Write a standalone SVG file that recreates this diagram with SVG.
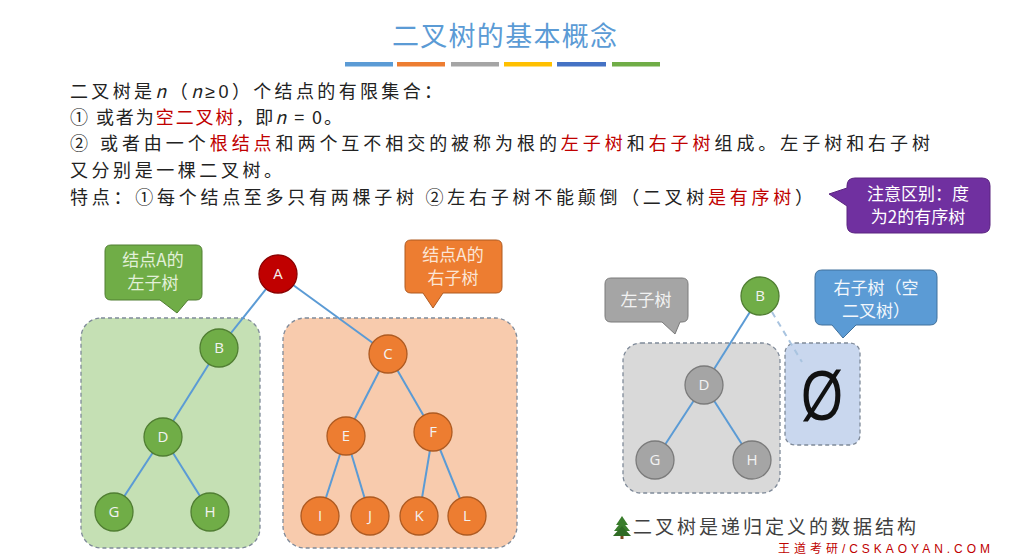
<svg xmlns="http://www.w3.org/2000/svg" width="1024" height="555" viewBox="0 0 1024 555">
<defs>
<style>
.cjk{font-family:"Noto Sans CJK SC","Noto Sans",sans-serif;}
.body{font-size:18px;fill:#222222;}
.red{fill:#C00000;}
.lat{font-family:"Liberation Sans","Noto Sans",sans-serif;}
.lbl{font-family:"Open Sans","Liberation Sans",sans-serif;font-size:15px;fill:#F2F2F2;text-anchor:middle;}
.edge{stroke:#5B9BD5;stroke-width:2;fill:none;}
.box{stroke:#7F8A99;stroke-width:1.3;stroke-dasharray:4 3;}
.ctext{font-family:"Noto Sans CJK SC","Noto Sans",sans-serif;font-size:17px;text-anchor:middle;}
.gn{fill:#70AD47;stroke:#507E32;stroke-width:1.3;}
.on{fill:#ED7D31;stroke:#AE5A21;stroke-width:1.3;}
.yn{fill:#A5A5A5;stroke:#7B7B7B;stroke-width:1.3;}
</style>
</defs>
<rect width="1024" height="555" fill="#FFFFFF"/>

<!-- title -->
<g id="title">
<text x="392" y="46" class="cjk" font-size="27" fill="#5B9BD5" textLength="225" lengthAdjust="spacing">二叉树的基本概念</text>
<rect x="345" y="62" width="48" height="4.5" fill="#5B9BD5"/>
<rect x="397" y="62" width="48" height="4.5" fill="#ED7D31"/>
<rect x="451" y="62" width="48" height="4.5" fill="#A5A5A5"/>
<rect x="504" y="62" width="48" height="4.5" fill="#FFC000"/>
<rect x="557" y="62" width="49" height="4.5" fill="#4472C4"/>
<rect x="612" y="62" width="48" height="4.5" fill="#70AD47"/>
</g>

<!-- body text -->
<g id="body">
<text x="70" y="98" class="cjk body" textLength="372" lengthAdjust="spacing">二叉树是<tspan font-style="italic">n</tspan>（<tspan font-style="italic">n</tspan><tspan class="lat">≥0</tspan>）个结点的有限集合：</text>
<text x="70" y="124" class="cjk body" textLength="272" lengthAdjust="spacing">① 或者为<tspan class="red">空二叉树</tspan>，即<tspan font-style="italic">n</tspan> = 0。</text>
<text x="70" y="150" class="cjk body" textLength="860" lengthAdjust="spacing">② 或者由一个<tspan class="red">根结点</tspan>和两个互不相交的被称为根的<tspan class="red">左子树</tspan>和<tspan class="red">右子树</tspan>组成。左子树和右子树</text>
<text x="70" y="177" class="cjk body" textLength="212" lengthAdjust="spacing">又分别是一棵二叉树。</text>
<text x="70" y="204" class="cjk body" textLength="743" lengthAdjust="spacing">特点：①每个结点至多只有两棵子树 ②左右子树不能颠倒（二叉树<tspan class="red">是有序树</tspan>）</text>
</g>

<!-- purple callout -->
<g id="note-purple">
<path d="M855,178 H982 Q990,178 990,186 V225 Q990,233 982,233 H855 Q847,233 847,225 V206 L829,194 L847,188 V186 Q847,178 855,178 Z" fill="#7030A0" stroke="#5A2480" stroke-width="1"/>
<text x="918" y="200" class="ctext" fill="#FFFFFF">注意区别：度</text>
<text x="918" y="223" class="ctext" fill="#FFFFFF">为2的有序树</text>
</g>

<!-- subtree boxes -->
<g id="box-left">
<rect x="81" y="318" width="179" height="230" rx="20" fill="#C5E0B4" class="box"/>
</g>
<g id="box-right">
<rect x="283" y="318" width="234" height="230" rx="22" fill="#F8CBAD" class="box"/>
</g>
<g id="box-gray">
<rect x="623" y="343" width="157" height="150" rx="18" fill="#D9D9D9" class="box"/>
</g>
<g id="box-empty">
<rect x="785" y="343" width="75" height="102" rx="10" fill="#C9D7EE" class="box"/>
<text x="801" y="420" font-family="Liberation Sans, sans-serif" font-size="70" fill="#111111" textLength="42" lengthAdjust="spacingAndGlyphs">Ø</text>
</g>

<!-- callouts -->
<g id="callout-left">
<path d="M111,245 H196 Q202,245 202,251 V294 Q202,300 196,300 H188 L177,313 L160,300 H111 Q105,300 105,294 V251 Q105,245 111,245 Z" fill="#70AD47" stroke="#507E32" stroke-width="1"/>
<text x="153" y="266" class="ctext" fill="#E2F0D9">结点A的</text>
<text x="153" y="289" class="ctext" fill="#E2F0D9">左子树</text>
</g>
<g id="callout-right">
<path d="M411,240 H496 Q502,240 502,246 V287 Q502,293 496,293 H443 L433,308 L423,293 H411 Q405,293 405,287 V246 Q405,240 411,240 Z" fill="#ED7D31" stroke="#AE5A21" stroke-width="1"/>
<text x="453" y="261" class="ctext" fill="#FBE5D6">结点A的</text>
<text x="453" y="284" class="ctext" fill="#FBE5D6">右子树</text>
</g>
<g id="callout-gray">
<path d="M611,278 H682 Q688,278 688,284 V316 Q688,322 682,322 H680 L675,334 L662,322 H611 Q605,322 605,316 V284 Q605,278 611,278 Z" fill="#A5A5A5" stroke="#7B7B7B" stroke-width="1"/>
<text x="646" y="306" class="ctext" fill="#F2F2F2">左子树</text>
</g>
<g id="callout-blue">
<path d="M822,270 H930 Q937,270 937,277 V318 Q937,325 930,325 H856 L843,338 L832,325 H822 Q815,325 815,318 V277 Q815,270 822,270 Z" fill="#5B9BD5" stroke="#41719C" stroke-width="1"/>
<text x="876" y="294" class="ctext" fill="#F2F7FC">右子树（空</text>
<text x="876" y="317" class="ctext" fill="#F2F7FC">二叉树）</text>
</g>

<!-- connectors -->
<g id="edges">
<line class="edge" x1="278" y1="274" x2="219" y2="348"/>
<line class="edge" x1="278" y1="274" x2="388" y2="354"/>
<line class="edge" x1="219" y1="348" x2="163" y2="437"/>
<line class="edge" x1="163" y1="437" x2="114" y2="512"/>
<line class="edge" x1="163" y1="437" x2="210" y2="512"/>
<line class="edge" x1="388" y1="354" x2="346" y2="436"/>
<line class="edge" x1="388" y1="354" x2="433" y2="432"/>
<line class="edge" x1="346" y1="436" x2="320" y2="516"/>
<line class="edge" x1="346" y1="436" x2="370" y2="516"/>
<line class="edge" x1="433" y1="432" x2="419" y2="516"/>
<line class="edge" x1="433" y1="432" x2="467" y2="516"/>
<line class="edge" x1="760" y1="296" x2="704" y2="385"/>
<line class="edge" x1="704" y1="385" x2="655" y2="460"/>
<line class="edge" x1="704" y1="385" x2="752" y2="460"/>
<line x1="772" y1="312" x2="802" y2="362" stroke="#A9C4E0" stroke-width="2" stroke-dasharray="6 5"/>
</g>

<!-- nodes -->
<g id="node-A"><circle cx="278" cy="274" r="19" fill="#C00000" stroke="#8B0000" stroke-width="1.3"/><text x="278" y="279" class="lbl">A</text></g>
<g id="node-B"><circle cx="219" cy="348" r="19" class="gn"/><text x="219" y="353" class="lbl">B</text></g>
<g id="node-D"><circle cx="163" cy="437" r="19" class="gn"/><text x="163" y="442" class="lbl">D</text></g>
<g id="node-G"><circle cx="114" cy="512" r="19" class="gn"/><text x="114" y="517" class="lbl">G</text></g>
<g id="node-H"><circle cx="210" cy="512" r="19" class="gn"/><text x="210" y="517" class="lbl">H</text></g>
<g id="node-C"><circle cx="388" cy="354" r="19" class="on"/><text x="388" y="359" class="lbl">C</text></g>
<g id="node-E"><circle cx="346" cy="436" r="19" class="on"/><text x="346" y="441" class="lbl">E</text></g>
<g id="node-F"><circle cx="433" cy="432" r="19" class="on"/><text x="433" y="437" class="lbl">F</text></g>
<g id="node-I"><circle cx="320" cy="516" r="19" class="on"/><text x="320" y="521" class="lbl">I</text></g>
<g id="node-J"><circle cx="370" cy="516" r="19" class="on"/><text x="370" y="521" class="lbl">J</text></g>
<g id="node-K"><circle cx="419" cy="516" r="19" class="on"/><text x="419" y="521" class="lbl">K</text></g>
<g id="node-L"><circle cx="467" cy="516" r="19" class="on"/><text x="467" y="521" class="lbl">L</text></g>
<g id="node-B2"><circle cx="760" cy="296" r="19" class="gn"/><text x="760" y="301" class="lbl">B</text></g>
<g id="node-D2"><circle cx="704" cy="385" r="19" class="yn"/><text x="704" y="390" class="lbl">D</text></g>
<g id="node-G2"><circle cx="655" cy="460" r="19" class="yn"/><text x="655" y="465" class="lbl">G</text></g>
<g id="node-H2"><circle cx="752" cy="460" r="19" class="yn"/><text x="752" y="465" class="lbl">H</text></g>

<!-- caption -->
<g id="caption">
<polygon points="622,516 616,525 628,525" fill="#3A7D2C"/>
<polygon points="622,521 614,531 630,531" fill="#3A7D2C"/>
<polygon points="622,526 613,536 631,536" fill="#2F6B24"/>
<rect x="620.5" y="536" width="3" height="3" fill="#7A4A1E"/>
<text x="633" y="534" class="cjk" font-size="19" fill="#404040" textLength="283" lengthAdjust="spacing">二叉树是递归定义的数据结构</text>
</g>
<g id="footer">
<text x="778" y="553" font-family="Liberation Sans, Noto Sans CJK SC, sans-serif" font-size="12" fill="#C00000" textLength="212" lengthAdjust="spacing">王道考研/CSKAOYAN.COM</text>
</g>
</svg>
